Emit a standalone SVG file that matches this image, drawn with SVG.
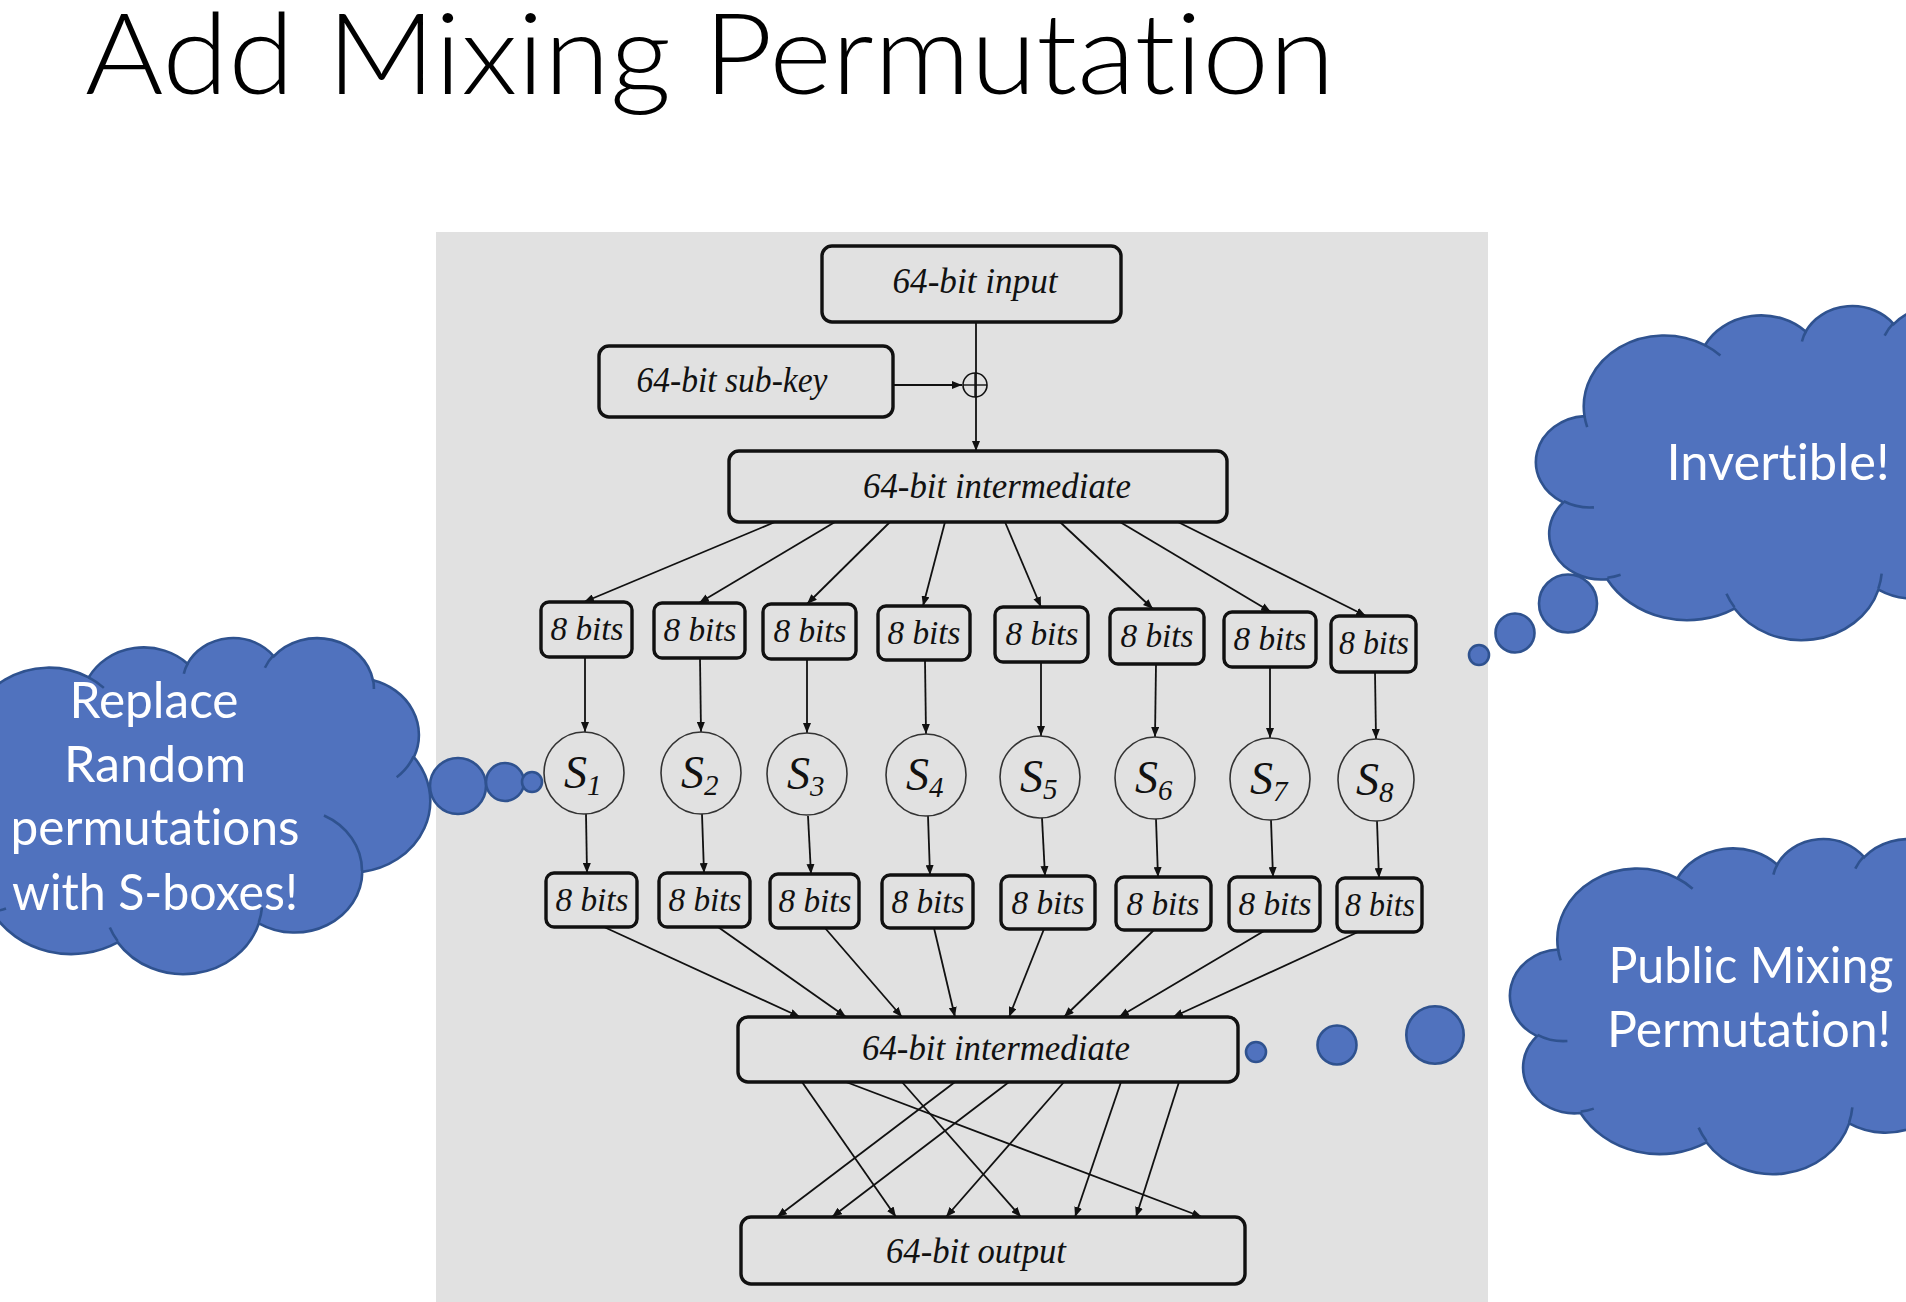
<svg xmlns="http://www.w3.org/2000/svg" xmlns:xlink="http://www.w3.org/1999/xlink" width="1906" height="1302" viewBox="0 0 1906 1302">
<style>
text{font-variant-ligatures:none;font-feature-settings:"liga" 0,"clig" 0,"dlig" 0}
.box{fill:none;stroke:#111;stroke-width:3.4}
.sbox{fill:none;stroke:#333;stroke-width:1.6}
.lbl{font-family:"Liberation Serif","Times New Roman",serif;font-style:italic;fill:#111;text-anchor:middle}
.big{font-size:35px}
.bits{font-size:34px}
.sl{font-family:"Liberation Serif","Times New Roman",serif;font-style:italic;fill:#111;font-size:46px}
.sub{font-size:29px}
.con{stroke:#111;stroke-width:1.8;fill:none}
.arr{marker-end:url(#ah)}
.cloud{fill:#5072BE;stroke:#2F528F;stroke-width:2.6;vector-effect:non-scaling-stroke}
.seam{fill:none;stroke:#2F528F;stroke-width:2.6;vector-effect:non-scaling-stroke}
.bub{fill:#5072BE;stroke:#2F528F;stroke-width:2.6}
.ct{font-family:Lato,"Open Sans","Liberation Sans",sans-serif;font-size:50px;fill:#fff;text-anchor:middle}
</style>
<defs>
<marker id="ah" viewBox="0 0 10 8" refX="10" refY="4" markerWidth="10" markerHeight="8" markerUnits="userSpaceOnUse" orient="auto">
<path d="M0,0 L10,4 L0,8 z" fill="#111"/>
</marker>
<path id="cloudShape" class="cloud" d="M3900 14370 A6753 9190 0 0 1 14005 5202 A5333 7267 0 0 1 22458 3428 A4365 5945 0 0 1 29835 2475 A4857 6595 0 0 1 38320 5571 A5333 7273 0 0 1 41820 15454 A6775 9220 0 0 1 37406 30198 A5785 7867 0 0 1 28558 36808 A6752 9215 0 0 1 16483 39261 A7720 10543 0 0 1 5806 35464 A4360 5918 0 0 1 2115 25543 A4345 5945 0 0 1 3900 14370 Z"/>
<path id="cloudSeams" class="seam" d="M4693 26177 A4345 5945 0 0 1 2160 25380 M6928 34899 A4360 5918 0 0 1 5820 35280 M16478 39090 A6752 9215 0 0 1 15810 37349 M28827 34751 A6752 9215 0 0 1 28560 36660 M34129 22954 A5785 7867 0 0 1 37381 30090 M41798 15354 A5333 7273 0 0 1 40350 18030 M38324 5426 A4857 6595 0 0 1 38401 6690 M29078 3952 A4857 6595 0 0 1 29820 2340 M22141 4720 A4365 5945 0 0 1 22500 3331 M14000 5192 A6753 9190 0 0 1 15300 6540 M4127 15789 A6753 9190 0 0 1 3900 14371"/>
</defs>
<rect width="1906" height="1302" fill="#ffffff"/>
<text id="title" x="85" y="94" font-family="Lato,'Open Sans','Liberation Sans',sans-serif" font-weight="300" font-size="112" fill="#000" textLength="1250" lengthAdjust="spacingAndGlyphs">Add Mixing Permutation</text>
<rect id="panel" x="436" y="232" width="1052" height="1070" fill="#e1e1e1"/>

<g id="connectors">
<line class="con" x1="976" y1="322" x2="976" y2="451" marker-end="url(#ah)"/>
<line class="con arr" x1="893" y1="385" x2="962" y2="385"/>
<line class="con arr" x1="775" y1="522" x2="584" y2="602"/>
<line class="con arr" x1="835" y1="522" x2="699" y2="603"/>
<line class="con arr" x1="890" y1="522" x2="807" y2="604"/>
<line class="con arr" x1="945" y1="522" x2="923" y2="606"/>
<line class="con arr" x1="1005" y1="522" x2="1041" y2="607"/>
<line class="con arr" x1="1060" y1="522" x2="1153" y2="609"/>
<line class="con arr" x1="1120" y1="522" x2="1271" y2="612"/>
<line class="con arr" x1="1178" y1="522" x2="1366" y2="616"/>
<line class="con arr" x1="585" y1="657" x2="585" y2="732"/>
<line class="con arr" x1="700" y1="658" x2="701" y2="732"/>
<line class="con arr" x1="807" y1="659" x2="807" y2="733"/>
<line class="con arr" x1="925" y1="660" x2="926" y2="734"/>
<line class="con arr" x1="1041" y1="662" x2="1041" y2="736"/>
<line class="con arr" x1="1156" y1="664" x2="1155" y2="737"/>
<line class="con arr" x1="1270" y1="667" x2="1270" y2="738"/>
<line class="con arr" x1="1375" y1="672" x2="1376" y2="739"/>
<line class="con arr" x1="586" y1="814" x2="587" y2="873"/>
<line class="con arr" x1="702" y1="814" x2="704" y2="873"/>
<line class="con arr" x1="808" y1="816" x2="811" y2="874"/>
<line class="con arr" x1="928" y1="816" x2="930" y2="875"/>
<line class="con arr" x1="1042" y1="818" x2="1045" y2="876"/>
<line class="con arr" x1="1156" y1="819" x2="1158" y2="877"/>
<line class="con arr" x1="1271" y1="820" x2="1273" y2="877"/>
<line class="con arr" x1="1377" y1="821" x2="1379" y2="878"/>
<line class="con arr" x1="604" y1="927" x2="800" y2="1017"/>
<line class="con arr" x1="718" y1="927" x2="846" y2="1017"/>
<line class="con arr" x1="825" y1="928" x2="902" y2="1017"/>
<line class="con arr" x1="934" y1="928" x2="955" y2="1017"/>
<line class="con arr" x1="1044" y1="929" x2="1009" y2="1017"/>
<line class="con arr" x1="1154" y1="930" x2="1064" y2="1017"/>
<line class="con arr" x1="1264" y1="931" x2="1119" y2="1017"/>
<line class="con arr" x1="1358" y1="932" x2="1173" y2="1017"/>
<line class="con arr" x1="802" y1="1082" x2="896" y2="1217"/>
<line class="con arr" x1="846" y1="1082" x2="1202" y2="1217"/>
<line class="con arr" x1="902" y1="1082" x2="1021" y2="1217"/>
<line class="con arr" x1="955" y1="1082" x2="777" y2="1217"/>
<line class="con arr" x1="1009" y1="1082" x2="832" y2="1217"/>
<line class="con arr" x1="1064" y1="1082" x2="946" y2="1217"/>
<line class="con arr" x1="1121" y1="1082" x2="1075" y2="1217"/>
<line class="con arr" x1="1179" y1="1082" x2="1136" y2="1217"/>
</g>

<g id="xor">
<circle cx="975" cy="385" r="12" fill="none" stroke="#111" stroke-width="1.6"/>
<line x1="963" y1="385" x2="987" y2="385" stroke="#111" stroke-width="1.4"/>
<line x1="975" y1="373" x2="975" y2="397" stroke="#111" stroke-width="1.4"/>
</g>

<g id="input"><rect class="box" x="822" y="246" width="299" height="76" rx="10"/><text class="lbl big" x="975" y="293" textLength="165" lengthAdjust="spacingAndGlyphs">64-bit input</text></g>
<g id="subkey"><rect class="box" x="599" y="346" width="294" height="71" rx="10"/><text class="lbl big" x="732" y="392" textLength="191" lengthAdjust="spacingAndGlyphs">64-bit sub-key</text></g>
<g id="inter1"><rect class="box" x="729" y="451" width="498" height="71" rx="10"/><text class="lbl big" x="997" y="498" textLength="268" lengthAdjust="spacingAndGlyphs">64-bit intermediate</text></g>

<g id="in1"><rect class="box" x="541" y="602" width="91" height="55" rx="8"/><text class="lbl bits" x="587" y="640" textLength="73" lengthAdjust="spacingAndGlyphs">8 bits</text></g>
<g id="in2"><rect class="box" x="654" y="603" width="91" height="55" rx="8"/><text class="lbl bits" x="700" y="641" textLength="73" lengthAdjust="spacingAndGlyphs">8 bits</text></g>
<g id="in3"><rect class="box" x="763" y="604" width="93" height="55" rx="8"/><text class="lbl bits" x="810" y="642" textLength="73" lengthAdjust="spacingAndGlyphs">8 bits</text></g>
<g id="in4"><rect class="box" x="878" y="606" width="92" height="54" rx="8"/><text class="lbl bits" x="924" y="644" textLength="73" lengthAdjust="spacingAndGlyphs">8 bits</text></g>
<g id="in5"><rect class="box" x="995" y="607" width="93" height="55" rx="8"/><text class="lbl bits" x="1042" y="645" textLength="73" lengthAdjust="spacingAndGlyphs">8 bits</text></g>
<g id="in6"><rect class="box" x="1110" y="609" width="94" height="55" rx="8"/><text class="lbl bits" x="1157" y="647" textLength="73" lengthAdjust="spacingAndGlyphs">8 bits</text></g>
<g id="in7"><rect class="box" x="1224" y="612" width="92" height="55" rx="8"/><text class="lbl bits" x="1270" y="650" textLength="73" lengthAdjust="spacingAndGlyphs">8 bits</text></g>
<g id="in8"><rect class="box" x="1331" y="616" width="85" height="56" rx="8"/><text class="lbl bits" x="1374" y="654" textLength="70" lengthAdjust="spacingAndGlyphs">8 bits</text></g>

<g id="s1"><ellipse class="sbox" cx="584" cy="773" rx="40" ry="41"/><text class="sl" x="564" y="788">S<tspan class="sub" dy="7">1</tspan></text></g>
<g id="s2"><ellipse class="sbox" cx="701" cy="773" rx="40" ry="41"/><text class="sl" x="681" y="788">S<tspan class="sub" dy="7">2</tspan></text></g>
<g id="s3"><ellipse class="sbox" cx="807" cy="774" rx="40" ry="41"/><text class="sl" x="787" y="789">S<tspan class="sub" dy="7">3</tspan></text></g>
<g id="s4"><ellipse class="sbox" cx="926" cy="775" rx="40" ry="41"/><text class="sl" x="906" y="790">S<tspan class="sub" dy="7">4</tspan></text></g>
<g id="s5"><ellipse class="sbox" cx="1040" cy="777" rx="40" ry="41"/><text class="sl" x="1020" y="792">S<tspan class="sub" dy="7">5</tspan></text></g>
<g id="s6"><ellipse class="sbox" cx="1155" cy="778" rx="40" ry="41"/><text class="sl" x="1135" y="793">S<tspan class="sub" dy="7">6</tspan></text></g>
<g id="s7"><ellipse class="sbox" cx="1270" cy="779" rx="40" ry="41"/><text class="sl" x="1250" y="794">S<tspan class="sub" dy="7">7</tspan></text></g>
<g id="s8"><ellipse class="sbox" cx="1376" cy="780" rx="38" ry="41"/><text class="sl" x="1356" y="795">S<tspan class="sub" dy="7">8</tspan></text></g>

<g id="out1"><rect class="box" x="546" y="873" width="91" height="54" rx="8"/><text class="lbl bits" x="592" y="911" textLength="73" lengthAdjust="spacingAndGlyphs">8 bits</text></g>
<g id="out2"><rect class="box" x="659" y="873" width="91" height="54" rx="8"/><text class="lbl bits" x="705" y="911" textLength="73" lengthAdjust="spacingAndGlyphs">8 bits</text></g>
<g id="out3"><rect class="box" x="770" y="874" width="89" height="54" rx="8"/><text class="lbl bits" x="815" y="912" textLength="73" lengthAdjust="spacingAndGlyphs">8 bits</text></g>
<g id="out4"><rect class="box" x="882" y="875" width="91" height="53" rx="8"/><text class="lbl bits" x="928" y="913" textLength="73" lengthAdjust="spacingAndGlyphs">8 bits</text></g>
<g id="out5"><rect class="box" x="1001" y="876" width="94" height="53" rx="8"/><text class="lbl bits" x="1048" y="914" textLength="73" lengthAdjust="spacingAndGlyphs">8 bits</text></g>
<g id="out6"><rect class="box" x="1116" y="877" width="95" height="53" rx="8"/><text class="lbl bits" x="1163" y="915" textLength="73" lengthAdjust="spacingAndGlyphs">8 bits</text></g>
<g id="out7"><rect class="box" x="1229" y="877" width="91" height="54" rx="8"/><text class="lbl bits" x="1275" y="915" textLength="73" lengthAdjust="spacingAndGlyphs">8 bits</text></g>
<g id="out8"><rect class="box" x="1337" y="878" width="85" height="54" rx="8"/><text class="lbl bits" x="1380" y="916" textLength="70" lengthAdjust="spacingAndGlyphs">8 bits</text></g>

<g id="inter2"><rect class="box" x="738" y="1017" width="500" height="65" rx="10"/><text class="lbl big" x="996" y="1060" textLength="268" lengthAdjust="spacingAndGlyphs">64-bit intermediate</text></g>
<g id="output"><rect class="box" x="741" y="1217" width="504" height="67" rx="10"/><text class="lbl big" x="976" y="1263" textLength="180" lengthAdjust="spacingAndGlyphs">64-bit output</text></g>

<g id="cloud-sboxes">
<use xlink:href="#cloudShape" href="#cloudShape" transform="translate(-75,637) scale(0.011690,0.0077778)"/>
<use xlink:href="#cloudSeams" href="#cloudSeams" transform="translate(-75,637) scale(0.011690,0.0077778)"/>
<circle class="bub" cx="458" cy="786" r="28"/>
<circle class="bub" cx="505" cy="782" r="19"/>
<circle class="bub" cx="532" cy="782" r="10"/>
<text class="ct" x="154" y="718" textLength="169" lengthAdjust="spacingAndGlyphs">Replace</text>
<text class="ct" x="155" y="782" textLength="182" lengthAdjust="spacingAndGlyphs">Random</text>
<text class="ct" x="155" y="845" textLength="289" lengthAdjust="spacingAndGlyphs">permutations</text>
<text class="ct" x="155" y="910" textLength="286" lengthAdjust="spacingAndGlyphs">with S-boxes!</text>
</g>

<g id="cloud-invertible">
<use xlink:href="#cloudShape" href="#cloudShape" transform="translate(1538,305) scale(0.011921,0.0077315)"/>
<use xlink:href="#cloudSeams" href="#cloudSeams" transform="translate(1538,305) scale(0.011921,0.0077315)"/>
<circle class="bub" cx="1568" cy="603.5" r="29"/>
<circle class="bub" cx="1515" cy="633" r="19.5"/>
<circle class="bub" cx="1479" cy="655" r="10"/>
<text class="ct" x="1778" y="480" textLength="223" lengthAdjust="spacingAndGlyphs">Invertible!</text>
</g>

<g id="cloud-public">
<use xlink:href="#cloudShape" href="#cloudShape" transform="translate(1512,838) scale(0.011806,0.0077546)"/>
<use xlink:href="#cloudSeams" href="#cloudSeams" transform="translate(1512,838) scale(0.011806,0.0077546)"/>
<circle class="bub" cx="1256" cy="1052" r="10"/>
<circle class="bub" cx="1337" cy="1045" r="19.5"/>
<circle class="bub" cx="1435" cy="1035" r="28.7"/>
<text class="ct" x="1751" y="983" textLength="285" lengthAdjust="spacingAndGlyphs">Public Mixing</text>
<text class="ct" x="1749" y="1047" textLength="284" lengthAdjust="spacingAndGlyphs">Permutation!</text>
</g>
</svg>
